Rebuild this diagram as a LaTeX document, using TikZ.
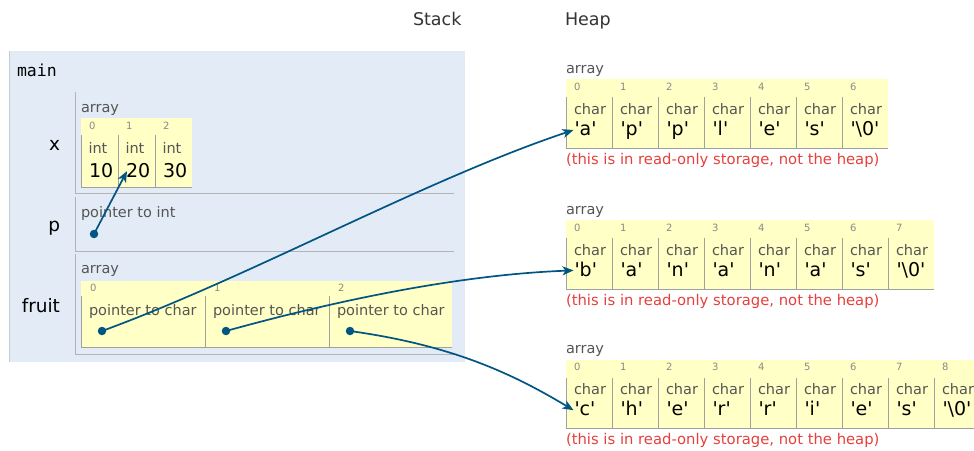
\documentclass[tikz,border=0pt]{standalone}
\usepackage{fontspec}
\setmainfont{DejaVu Sans}
\newfontfamily\valfont{DejaVu Sans}[Ligatures=TeXOff]
\newfontfamily\codefont{DejaVu Sans Mono}
\usetikzlibrary{arrows.meta}
\definecolor{framebg}{HTML}{E2EBF6}
\definecolor{framebd}{HTML}{C2CCD6}
\definecolor{cellbg}{HTML}{FFFFC6}
\definecolor{ptr}{HTML}{005583}
\definecolor{rowgray}{HTML}{B4B4B4}
\definecolor{cellgray}{HTML}{A0A0A0}
\definecolor{warn}{HTML}{E5403C}
\definecolor{typegray}{HTML}{555555}
\definecolor{idxgray}{HTML}{8A8A8A}
\definecolor{areagray}{HTML}{333333}
\tikzset{
  txt/.style={anchor=base west, inner sep=0pt, outer sep=0pt},
  typelbl/.style={txt, text=typegray, font=\fontsize{14.5}{17}\selectfont},
  idxlbl/.style={txt, text=idxgray, font=\fontsize{10}{12}\selectfont},
  vallbl/.style={txt, text=black, font=\valfont\fontsize{19}{22}\selectfont},
  warnlbl/.style={txt, text=warn, font=\fontsize{14.8}{17}\selectfont},
  varlbl/.style={anchor=base east, inner sep=0pt, outer sep=0pt, font=\fontsize{18.5}{22}\selectfont},
  arealbl/.style={txt, text=areagray, font=\fontsize{17.5}{20}\selectfont},
  ptrdot/.style={circle, fill=ptr, inner sep=0pt, minimum size=8.5pt},
  ptrarrow/.style={draw=ptr, line width=1.7pt, -{Stealth[length=11pt,width=9pt,inset=3pt]}},
  rowline/.style={draw=rowgray, line width=1pt},
  cellline/.style={draw=cellgray, line width=1pt},
}
% #1 label baseline, #2 number of cells, #3 name prefix, #4 values
\newcommand\heaparr[4]{%
  \fill[cellbg] (566,#1+6) rectangle ({566+46*#2},#1+75);
  \node[typelbl] (#3lbl) at (566,#1) {array};
  \foreach \v [count=\i from 0] in {#4} {
    \pgfmathsetmacro\cx{566+46*\i}
    \draw[cellline] (\cx,#1+24) -- (\cx,#1+75);
    \node[idxlbl] (#3i\i) at (\cx+8,#1+17) {\i};
    \node[typelbl] (#3t\i) at (\cx+8,#1+41) {char};
    \node[vallbl] (#3v\i) at (\cx+8.5,#1+62) {'\v'};
  }
  \draw[cellline] (566,#1+75) -- ({566+46*#2},#1+75);
  \node[warnlbl] (#3note) at (566,#1+91) {(this is in read-only storage, not the heap)};
}
\begin{document}
\begin{tikzpicture}[x=1pt,y=-1pt]
\useasboundingbox (0,0) rectangle (974,450);
\clip (0,0) rectangle (974,450);

% headings
\node[arealbl] (stacklbl) at (413,25) {Stack};
\node[arealbl] (heaplbl) at (565,25) {Heap};

% stack frame
\fill[framebg] (9,51) rectangle (465,362);
\draw[draw=framebd, line width=1pt] (9.5,51) -- (9.5,362);
\node[txt, font=\codefont\fontsize{16.5}{19}\selectfont] (mainlbl) at (17,76.5) {main};

\draw[rowline] (75,92) -- (75,193) -- (454,193);
\draw[rowline] (75,197) -- (75,251) -- (454,251);
\draw[rowline] (75,254) -- (75,354) -- (454,354);

\node[varlbl] (xname) at (60,150) {x};
\node[varlbl] (pname) at (60,231.5) {p};
\node[varlbl] (fruitname) at (60,312) {fruit};

% x array
\node[typelbl] (xarr) at (81,112) {array};
\fill[cellbg] (81,118) rectangle (192,187);
\foreach \v [count=\i from 0] in {10,20,30} {
  \pgfmathsetmacro\cx{81+37*\i}
  \draw[cellline] (\cx,135) -- (\cx,187);
  \node[idxlbl] (xi\i) at (\cx+8,129) {\i};
  \node[typelbl] (xt\i) at (\cx+7.5,153) {int};
  \node[vallbl] (xv\i) at (\cx+8,177) {\v};
}
\draw[cellline] (81,187) -- (192,187);

% p
\node[typelbl] (ptype) at (81,217) {pointer to int};
\node[ptrdot] (pdot) at (94,234) {};

% fruit array
\node[typelbl] (farr) at (81,273) {array};
\fill[cellbg] (81,281) rectangle (452,347);
\foreach \i in {0,1,2} {
  \pgfmathsetmacro\cx{81+124*\i}
  \draw[cellline] (\cx,296) -- (\cx,347);
  \node[idxlbl] (fi\i) at (\cx+9,291.5) {\i};
  \node[typelbl] (ft\i) at (\cx+8,315) {pointer to char};
  \node[ptrdot] (fdot\i) at (\cx+21,331) {};
}
\draw[cellline] (81,347) -- (452,347);

% heap arrays
\heaparr{73.3}{7}{a}{a,p,p,l,e,s,\textbackslash0}
\heaparr{214}{8}{b}{b,a,n,a,n,a,s,\textbackslash0}
\heaparr{353.5}{9}{c}{c,h,e,r,r,i,e,s,\textbackslash0}

% pointers
\draw[ptrarrow] (pdot.center) -- ([xshift=1pt,yshift=-1pt]xv1.west);
\draw[ptrarrow] (fdot0.center) .. controls (252,276) and (424,180) .. ([xshift=-1pt,yshift=-1.5pt]av0.west);
\draw[ptrarrow] (fdot1.center) .. controls (320,305) and (450,275) .. ([xshift=-1pt,yshift=-1.5pt]bv0.west);
\draw[ptrarrow] (fdot2.center) .. controls (450,345) and (510,372) .. ([xshift=-1pt,yshift=-1.5pt]cv0.west);
\end{tikzpicture}
\end{document}
